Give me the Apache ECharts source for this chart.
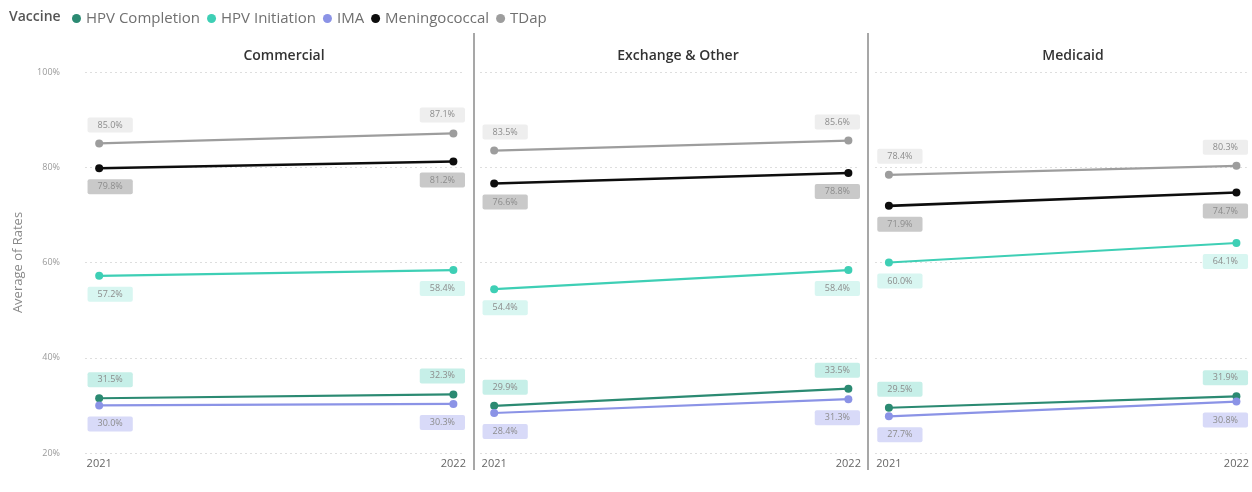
<!DOCTYPE html>
<html>
<head>
<meta charset="utf-8">
<title>Average of Rates by Vaccine</title>
<script src="https://cdn.jsdelivr.net/npm/echarts@6/dist/echarts.min.js"></script>
<style>
  html, body { margin: 0; padding: 0; background: #fff; }
  #chart { width: 1252px; height: 492px; }
</style>
</head>
<body>
<div id="chart"></div>
<script>
// Measurement years on the x axis
const years = [2021, 2022];

// Insurance segments, one panel each
const panels = ['Commercial', 'Exchange & Other', 'Medicaid'];

// Vaccine series, legend order
const vaccines = ['HPV Completion', 'HPV Initiation', 'IMA', 'Meningococcal', 'TDap'];

// Average rates (%) per panel, 2021 then 2022
const hpvCompletion = [[31.5, 32.3], [29.9, 33.5], [29.5, 31.9]];
const hpvInitiation = [[57.2, 58.4], [54.4, 58.4], [60.0, 64.1]];
const ima           = [[30.0, 30.3], [28.4, 31.3], [27.7, 30.8]];
const meningococcal = [[79.8, 81.2], [76.6, 78.8], [71.9, 74.7]];
const tdap          = [[85.0, 87.1], [83.5, 85.6], [78.4, 80.3]];

// Y axis ticks
const yTicks = [20, 40, 60, 80, 100];

const seriesValues = [hpvCompletion, hpvInitiation, ima, meningococcal, tdap];

const styles = {
  'HPV Completion': { color: '#2b8a72', labelBg: '#c6efe8', pos: 'top',    width: 2.2 },
  'HPV Initiation': { color: '#3ecfb5', labelBg: '#d8f6f1', pos: 'bottom', width: 2.2 },
  'IMA':            { color: '#8b93e6', labelBg: '#d8daf8', pos: 'bottom', width: 2.2 },
  'Meningococcal':  { color: '#0d0d0d', labelBg: '#c9c9c9', pos: 'bottom', width: 2.6 },
  'TDap':           { color: '#9d9d9d', labelBg: '#eeeeee', pos: 'top',    width: 2.2 }
};

const FONT = '"Open Sans", "Noto Sans", sans-serif';
const gridLefts = [85, 480, 875];
const gridWidth = 379;
const titleCenters = [279, 673, 1068];

const grids = gridLefts.map(l => ({ left: l, top: 72, width: gridWidth, height: 381 }));

const xAxes = gridLefts.map((l, i) => ({
  type: 'value',
  gridIndex: i,
  min: 2020.96,
  max: 2022.03,
  axisLine: { show: false },
  axisTick: { show: false },
  splitLine: { show: false },
  axisLabel: {
    customValues: years,
    formatter: v => String(v),
    color: '#666',
    fontSize: 11,
    fontFamily: FONT,
    margin: 5
  }
}));

const yAxes = gridLefts.map((l, i) => ({
  type: 'value',
  gridIndex: i,
  min: yTicks[0],
  max: yTicks[yTicks.length - 1],
  interval: yTicks[1] - yTicks[0],
  name: i === 0 ? 'Average of Rates' : '',
  nameLocation: 'middle',
  nameGap: 60,
  nameTextStyle: { color: '#8a8a8a', fontSize: 13, fontFamily: FONT },
  axisLine: { show: false },
  axisTick: { show: false },
  axisLabel: {
    show: i === 0,
    formatter: v => v + '%',
    color: '#9a9a9a',
    fontSize: 9,
    fontFamily: FONT,
    margin: 25
  },
  splitLine: { lineStyle: { color: '#dedede', type: [2, 3], width: 1 } }
}));

const series = [];
panels.forEach((p, pi) => {
  vaccines.forEach((name, vi) => {
    const st = styles[name];
    const vals = seriesValues[vi][pi];
    series.push({
      name: name,
      type: 'line',
      xAxisIndex: pi,
      yAxisIndex: pi,
      symbol: 'circle',
      symbolSize: 8,
      color: st.color,
      lineStyle: { width: st.width, color: st.color },
      itemStyle: { color: st.color },
      z: vi === 3 ? 4 : 3,
      label: {
        show: true,
        position: st.pos,
        distance: 7,
        formatter: d => d.value[1].toFixed(1) + '%',
        color: '#8c8c8c',
        fontSize: 9,
        fontFamily: FONT,
        backgroundColor: st.labelBg,
        padding: [3, 10, 3, 10],
        borderRadius: 2
      },
      data: years.map((y, k) => ({
        value: [y, vals[k]],
        label: { offset: [k === 0 ? 11 : -11, 0] }
      }))
    });
  });
});

const titles = panels.map((p, i) => ({
  text: p,
  left: titleCenters[i],
  top: 44,
  textAlign: 'center',
  textStyle: { color: '#333', fontSize: 14, fontWeight: 600, fontFamily: FONT }
}));

const option = {
  backgroundColor: '#ffffff',
  animation: false,
  title: titles,
  legend: {
    data: vaccines.map(n => ({ name: n, itemStyle: { color: styles[n].color } })),
    left: 67,
    top: 6,
    icon: 'circle',
    itemWidth: 9,
    itemHeight: 9,
    itemGap: 7,
    textStyle: { color: '#707070', fontSize: 15, fontFamily: FONT }
  },
  graphic: [
    {
      type: 'text',
      left: 9,
      top: 10,
      style: { text: 'Vaccine', fill: '#555', font: '600 14px ' + FONT }
    },
    {
      type: 'line',
      shape: { x1: 474, y1: 33, x2: 474, y2: 470 },
      style: { stroke: '#8a8a8a', lineWidth: 1.5 }
    },
    {
      type: 'line',
      shape: { x1: 868, y1: 33, x2: 868, y2: 470 },
      style: { stroke: '#8a8a8a', lineWidth: 1.5 }
    }
  ],
  grid: grids,
  xAxis: xAxes,
  yAxis: yAxes,
  series: series
};

const chart = echarts.init(document.getElementById('chart'), null, { renderer: 'canvas' });
chart.setOption(option);
</script>
</body>
</html>
